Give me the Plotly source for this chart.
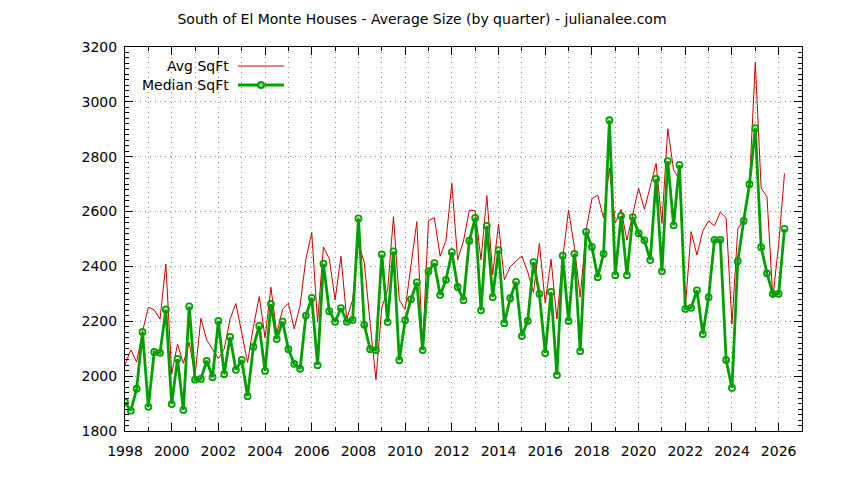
import plotly.graph_objects as go

start_year = 1998

avg_sqft = [
    2041, 2096, 2051, 2162, 2251, 2242, 2208, 2409, 2007, 2117, 2047, 2124,
    2000, 2211, 2132, 2100, 2064, 2099, 2208, 2265, 2160, 2050, 2180, 2290,
    2140, 2324, 2155, 2244, 2266, 2172, 2258, 2428, 2523, 2197, 2471, 2428,
    2278, 2437, 2208, 2278, 2484, 2415, 2193, 1987, 2250, 2314, 2581, 2278,
    2243, 2399, 2563, 2110, 2567, 2578, 2437, 2495, 2703, 2424, 2493, 2605,
    2603, 2424, 2658, 2370, 2554, 2351, 2399, 2419, 2438, 2380, 2304, 2484,
    2266, 2426, 2208, 2430, 2606, 2470, 2288, 2530, 2647, 2660, 2577, 2758,
    2558, 2608, 2495, 2591, 2685, 2608, 2697, 2776, 2557, 2902, 2752, 2716,
    2246, 2527, 2442, 2529, 2566, 2548, 2598, 2577, 2190, 2537, 2569, 2701,
    3143, 2685, 2654, 2285, 2480, 2739,
]

median_sqft = [
    1905, 1874, 1954, 2161, 1888, 2088, 2085, 2243, 1898, 2063, 1877, 2254,
    1987, 1990, 2056, 1996, 2201, 2007, 2143, 2023, 2059, 1927, 2107, 2183,
    2019, 2263, 2135, 2199, 2098, 2045, 2027, 2221, 2285, 2040, 2410, 2237,
    2198, 2248, 2198, 2205, 2575, 2187, 2098, 2095, 2444, 2197, 2455, 2058,
    2204, 2280, 2342, 2095, 2382, 2412, 2296, 2351, 2452, 2325, 2277, 2494,
    2577, 2240, 2548, 2288, 2459, 2193, 2284, 2344, 2146, 2201, 2416, 2300,
    2084, 2307, 2004, 2439, 2201, 2446, 2091, 2526, 2471, 2361, 2446, 2933,
    2368, 2584, 2368, 2580, 2521, 2495, 2423, 2719, 2382, 2784, 2550, 2770,
    2245, 2249, 2313, 2153, 2288, 2497, 2497, 2059, 1957, 2419, 2566, 2700,
    2904, 2470, 2375, 2300, 2300, 2537,
]

quarters = [start_year + i / 4 for i in range(len(median_sqft))]

x_tick_years = list(range(1998, 2027, 2))
y_ticks = list(range(1800, 3201, 200))

title_text = "South of El Monte Houses - Average Size (by quarter) - julianalee.com"
series_names = ["Avg SqFt", "Median SqFt"]

RED = "#cc0000"
GREEN = "#00a000"
GRID = "#909090"
GRID_DASH = "1px,4px"
FONT = "DejaVu Sans"

fig = go.Figure()
fig.add_trace(go.Scatter(
    x=quarters, y=avg_sqft, mode="lines", name=series_names[0],
    line=dict(color=RED, width=1), showlegend=False,
))
fig.add_trace(go.Scatter(
    x=quarters, y=median_sqft, mode="lines+markers", name=series_names[1],
    line=dict(color=GREEN, width=2.8),
    marker=dict(symbol="circle-open", size=6, color=GREEN, line=dict(width=1.8, color=GREEN)),
    showlegend=False,
))

W, H = 844, 480
L, R, T, B = 125, 42, 47, 49
pw, ph = W - L - R, H - T - B

def px(xp):
    return (xp - L) / pw

def py(yp):
    return (H - B - yp) / ph

# legend drawn gnuplot-style (text left, sample right)
legend_rows = [66, 85]
for name, yrow in zip(series_names, legend_rows):
    fig.add_annotation(
        x=px(231), y=py(yrow), xref="paper", yref="paper", text=name,
        showarrow=False, xanchor="right", yanchor="middle",
        font=dict(family=FONT, size=14, color="#000000"),
    )
fig.add_shape(type="line", xref="paper", yref="paper",
              x0=px(238), x1=px(284), y0=py(legend_rows[0]), y1=py(legend_rows[0]),
              line=dict(color=RED, width=1))
fig.add_shape(type="line", xref="paper", yref="paper",
              x0=px(238), x1=px(284), y0=py(legend_rows[1]), y1=py(legend_rows[1]),
              line=dict(color=GREEN, width=2.8))
fig.add_shape(type="circle", xref="paper", yref="paper",
              x0=px(258), x1=px(264), y0=py(legend_rows[1] - 3), y1=py(legend_rows[1] + 3),
              line=dict(color=GREEN, width=1.8), fillcolor="#80d080")

axis_common = dict(
    showline=True, linecolor="#000000", linewidth=1, mirror="allticks",
    ticks="inside", ticklen=8, tickcolor="#000000", tickwidth=1,
    showgrid=True, gridcolor=GRID, griddash=GRID_DASH, gridwidth=1,
    zeroline=False, tickfont=dict(family=FONT, size=14, color="#000000"),
)

fig.update_xaxes(
    range=[1998, 2027], tickmode="array", tickvals=x_tick_years,
    ticktext=[str(y) for y in x_tick_years], ticklabelstandoff=7,
    minor=dict(dtick=1, tick0=1998, ticks="inside", ticklen=4, tickcolor="#000000",
               showgrid=True, gridcolor=GRID, griddash=GRID_DASH, gridwidth=1),
    **axis_common,
)
fig.update_yaxes(
    range=[1800, 3200], tickmode="array", tickvals=y_ticks,
    ticktext=[str(v) for v in y_ticks], ticklabelstandoff=4,
    minor=dict(dtick=20, tick0=1800, ticks="inside", ticklen=4, tickcolor="#000000",
               showgrid=False),
    **axis_common,
)

fig.update_layout(
    width=W, height=H,
    margin=dict(l=L, r=R, t=T, b=B, pad=0),
    paper_bgcolor="#ffffff", plot_bgcolor="#ffffff",
    title=dict(text=title_text, x=0.5, xanchor="center", y=1 - 19 / H, yanchor="middle",
               font=dict(family=FONT, size=14, color="#000000")),
    font=dict(family=FONT, size=14, color="#000000"),
)

fig.write_html("out.html")
